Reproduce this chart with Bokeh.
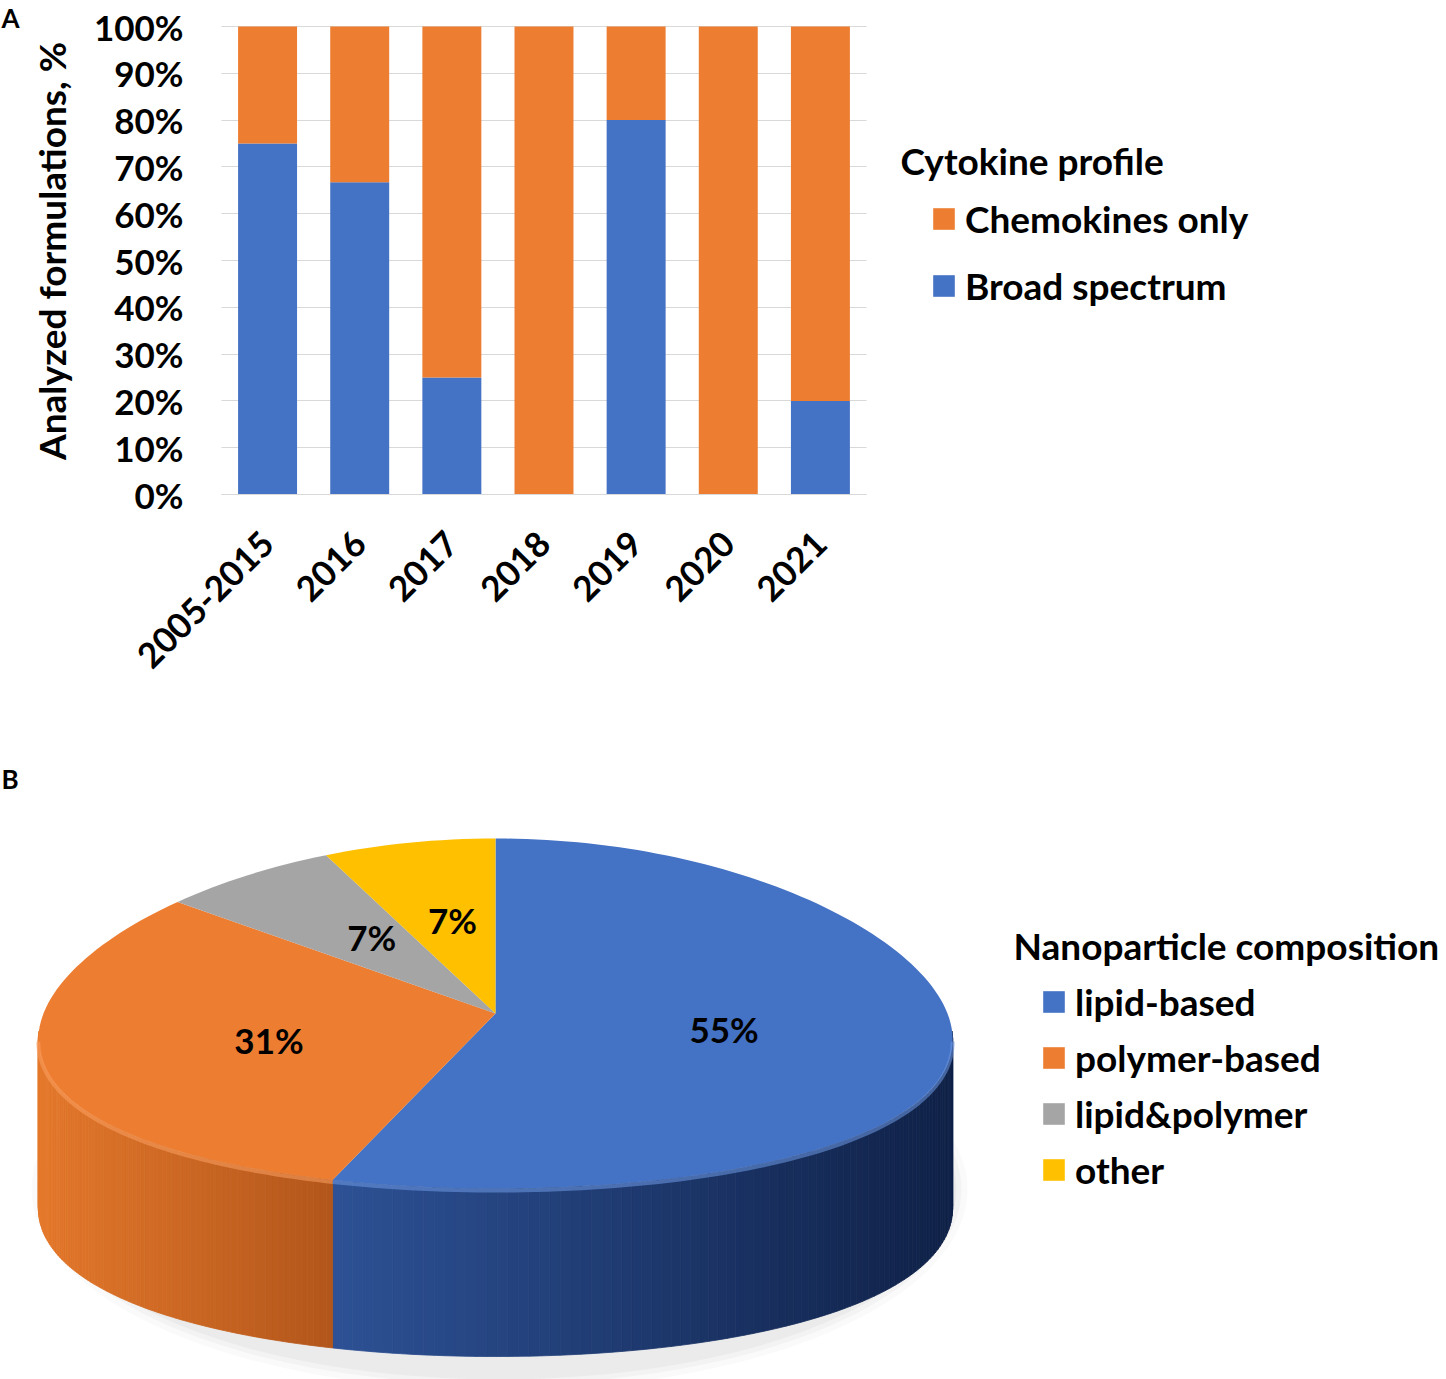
import math
from bokeh.plotting import figure
from bokeh.models import (Range1d, Legend, LegendItem, Label,
                          ColumnDataSource, FixedTicker)
from bokeh.layouts import column
from bokeh.embed import file_html
from bokeh.resources import INLINE
from bokeh.core.properties import value

# ---------------- data ----------------
years = ["2005-2015", "2016", "2017", "2018", "2019", "2020", "2021"]
broad_spectrum = [75, 66.7, 25, 0, 80, 0, 20]
chemokines_only = [25, 33.3, 75, 100, 20, 100, 80]
y_ticks = [0, 10, 20, 30, 40, 50, 60, 70, 80, 90, 100]
y_tick_labels = ["0%", "10%", "20%", "30%", "40%", "50%", "60%", "70%", "80%", "90%", "100%"]

composition = ["lipid-based", "polymer-based", "lipid&polymer", "other"]
composition_pct = [55, 31, 7, 7]
composition_labels = ["55%", "31%", "7%", "7%"]

# ---------------- style ----------------
FONT = "Lato"
BLUE = "#4472c4"
ORANGE = "#ed7d31"
GRAY = "#a5a5a5"
YELLOW = "#ffc000"
TXT = "#000000"
LEG_FS = "37px"

W = 1446
HA = 758
HB = 621

# ================= Panel A =================
X0, CAT = 221.0, 92.14      # left edge of bar area, pixels per category
Y0, Y100 = 494.0, 26.0      # pixel rows of 0 % and 100 %
PPU = (Y0 - Y100) / 100.0

n_cat = len(years)
xpos = [i + 0.5 for i in range(n_cat)]
src = ColumnDataSource(dict(x=xpos, year=years, broad=broad_spectrum, chemo=chemokines_only))

pa = figure(x_range=Range1d(-X0 / CAT, (W - X0) / CAT),
            y_range=Range1d(-(HA - Y0) / PPU, 100 + Y100 / PPU),
            width=W, height=HA, output_backend="svg", toolbar_location=None,
            min_border=0)
pa.outline_line_color = None

rs = pa.vbar_stack(["broad", "chemo"], x="x", width=0.64, source=src,
                   fill_color=[BLUE, ORANGE], line_color=None)
r_broad, r_chemo = rs

pa.xgrid.grid_line_color = None
pa.yaxis.ticker = FixedTicker(ticks=y_ticks)
pa.yaxis.major_label_overrides = {t: l for t, l in zip(y_ticks, y_tick_labels)}
pa.xaxis.ticker = FixedTicker(ticks=xpos)
pa.xaxis.major_label_overrides = {x: y for x, y in zip(xpos, years)}

g = pa.ygrid[0]
if "cross_bounds" in g.properties():
    g.cross_bounds = (0, n_cat)
    g.grid_line_color = "#d9d9d9"
    g.grid_line_width = 1
else:
    g.grid_line_color = None
    pa.segment(x0=[0] * len(y_ticks), x1=[n_cat] * len(y_ticks), y0=y_ticks, y1=y_ticks,
               line_color="#d9d9d9", line_width=1, level="underlay")

for ax in (pa.xaxis[0], pa.yaxis[0]):
    ax.fixed_location = 0
    ax.major_tick_line_color = None
    ax.minor_tick_line_color = None
    ax.major_label_text_font = FONT
    ax.major_label_text_font_style = "bold"
    ax.major_label_text_font_size = "35px"
    ax.major_label_text_color = TXT

pa.yaxis.bounds = (0, 104)
pa.yaxis.axis_line_color = None
pa.yaxis.major_label_standoff = 32
pa.yaxis.axis_label = "Analyzed formulations, %"
pa.yaxis.axis_label_text_font = FONT
pa.yaxis.axis_label_text_font_style = "bold"
pa.yaxis.axis_label_text_font_size = "37px"
pa.yaxis.axis_label_text_color = TXT
pa.yaxis.axis_label_standoff = 17

pa.xaxis.bounds = (0, n_cat)
pa.xaxis.axis_line_color = "#d9d9d9"
pa.xaxis.major_label_orientation = math.pi / 4
pa.xaxis.major_label_standoff = 37

pa.add_layout(Label(x=1, y=HA - 1, x_units="screen", y_units="screen", text="A",
                    text_font=FONT, text_font_style="bold",
                    text_font_size="26px", text_baseline="top", text_color=TXT))

pa.add_layout(Label(x=900, y=HA - 160, x_units="screen", y_units="screen",
                    text="Cytokine profile", text_font=FONT,
                    text_font_style="bold", text_font_size=LEG_FS,
                    text_baseline="middle", text_color=TXT))

leg_a = Legend(items=[LegendItem(label="Chemokines only", renderers=[r_chemo]),
                      LegendItem(label="Broad spectrum", renderers=[r_broad])],
               location=(930, HA - 308), glyph_width=27, glyph_height=27,
               label_standoff=8, label_text_font=FONT, label_text_font_style="bold",
               label_text_font_size=LEG_FS, label_text_color=TXT,
               label_height=45, spacing=22, padding=0, margin=0,
               background_fill_alpha=0, border_line_color=None)
pa.add_layout(leg_a)

# ================= Panel B =================
pb = figure(x_range=Range1d(0, W), y_range=Range1d(HA + HB, HA),
            width=W, height=HB, output_backend="svg", toolbar_location=None,
            min_border=0, x_axis_location=None, y_axis_location=None)
pb.outline_line_color = None
pb.xgrid.grid_line_color = None
pb.ygrid.grid_line_color = None

CX, CY, RX, RY, DEPTH, PERSP = 495.0, 1013.0, 452.0, 175.0, 168.0, 0.15


def pt(t, dy=0.0, frac=1.0, yfrac=None):
    s = 1.0 / (1.0 + PERSP * math.cos(t))
    yf = frac if yfrac is None else yfrac
    return CX + frac * RX * math.sin(t) * s, CY - yf * RY * math.cos(t) + dy


def hex2rgb(h):
    h = h.lstrip("#")
    return tuple(int(h[i:i + 2], 16) for i in (0, 2, 4))


def lerp(c1, c2, f):
    a, b = hex2rgb(c1), hex2rgb(c2)
    return "#%02x%02x%02x" % tuple(int(round(a[i] + (b[i] - a[i]) * f)) for i in range(3))


total = float(sum(composition_pct))
bounds = []
acc = 0.0
for v in composition_pct:
    t1 = 2 * math.pi * acc / total
    acc += v
    t2 = 2 * math.pi * acc / total
    bounds.append((t1, t2))

T_SIDE0 = math.acos(-PERSP)
T_SIDE1 = 2 * math.pi - T_SIDE0

# soft shadow
for grow, alpha in [(16, 0.04), (10, 0.05), (5, 0.06)]:
    pb.ellipse(x=[CX + 4], y=[CY + DEPTH + 8], width=2 * (RX + grow),
               height=2 * (RY + grow + 10), fill_color="#7f7f7f", fill_alpha=alpha,
               line_color=None)

# side walls (front half only), shaded strips
side_cols = {0: ("#2d5195", "#0f2147"), 1: ("#e4782b", "#b2561b")}
sx, sy, sc = [], [], []
for i, (t1, t2) in enumerate(bounds):
    a, b = max(t1, T_SIDE0 - 0.05), min(t2, T_SIDE1 + 0.05)
    if a >= b:
        continue
    c_left, c_right = side_cols.get(i, ("#777777", "#555555"))
    n = 90
    xs_all = [pt(a + (b - a) * k / n)[0] for k in range(n + 1)]
    xmin, xmax = min(xs_all), max(xs_all)
    for k in range(n):
        ta = a + (b - a) * k / n
        tb = a + (b - a) * (k + 1) / n
        p1, p2 = pt(ta), pt(tb)
        p3, p4 = pt(tb, DEPTH), pt(ta, DEPTH)
        xm = 0.5 * (p1[0] + p2[0])
        f = (xm - xmin) / (xmax - xmin) if xmax > xmin else 0
        sx.append([p1[0], p2[0], p3[0], p4[0]])
        sy.append([p1[1], p2[1], p3[1], p4[1]])
        sc.append(lerp(c_left, c_right, f))
pb.patches(xs=sx, ys=sy, fill_color=sc, line_color=sc, line_width=0.8)

# top face
top_cols = [BLUE, ORANGE, GRAY, YELLOW]
txs, tys = [], []
for (t1, t2) in bounds:
    n = max(8, int(240 * (t2 - t1) / (2 * math.pi)))
    xs = [CX]
    ys = [CY]
    for k in range(n + 1):
        x, y = pt(t1 + (t2 - t1) * k / n)
        xs.append(x)
        ys.append(y)
    txs.append(xs)
    tys.append(ys)
top_src = ColumnDataSource(dict(xs=txs, ys=tys, color=top_cols, name=composition))
r_top = pb.patches(xs="xs", ys="ys", fill_color="color", line_color=None, source=top_src)

# rim highlight along the front edge
rim_cols = {0: "#6f9be6", 1: "#fba062"}
for i, (t1, t2) in enumerate(bounds):
    a, b = max(t1, T_SIDE0), min(t2, T_SIDE1)
    if a >= b:
        continue
    n = 80
    pts = [pt(a + (b - a) * k / n, 2) for k in range(n + 1)]
    pb.line([p[0] for p in pts], [p[1] for p in pts], line_color=rim_cols[i],
            line_width=4, line_alpha=0.55)

# percent labels
lx, ly = [], []
for (t1, t2) in bounds:
    x, y = pt(0.5 * (t1 + t2), 0, 0.5, 0.55)
    lx.append(x)
    ly.append(y)
pb.text(x=lx, y=ly, text=composition_labels, text_font=value(FONT),
        text_font_style="bold", text_font_size="35px", text_align="center",
        text_baseline="middle", text_color=TXT)

pb.add_layout(Label(x=1, y=778, text="B", text_font=FONT, text_font_style="bold",
                    text_font_size="26px", text_baseline="middle", text_color=TXT))
pb.add_layout(Label(x=1013, y=945, text="Nanoparticle composition", text_font=FONT,
                    text_font_style="bold", text_font_size=LEG_FS,
                    text_baseline="middle", text_color=TXT))

leg_b = Legend(items=[LegendItem(label=composition[i], renderers=[r_top], index=i)
                      for i in range(len(composition))],
               location=(1040, HA + HB - 1192), glyph_width=27, glyph_height=27,
               label_standoff=8, label_text_font=FONT, label_text_font_style="bold",
               label_text_font_size=LEG_FS, label_text_color=TXT,
               label_height=45, spacing=11, padding=0, margin=0,
               background_fill_alpha=0, border_line_color=None)
pb.add_layout(leg_b)

layout = column(pa, pb, spacing=0)
open("out.html", "w").write(file_html(layout, INLINE))
